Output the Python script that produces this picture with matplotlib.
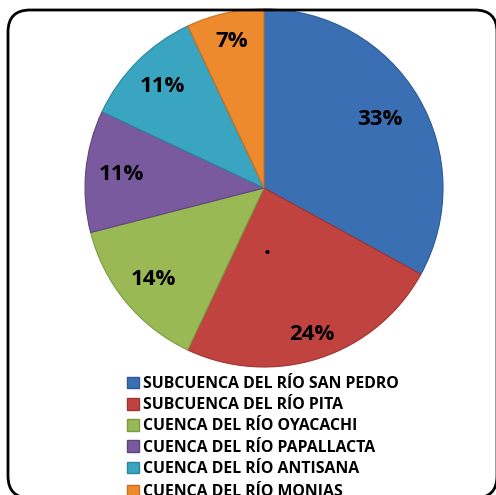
import matplotlib
matplotlib.use("Agg")
import numpy as np
import matplotlib.pyplot as plt
from matplotlib.patches import FancyBboxPatch, Patch

categories = ["SUBCUENCA DEL RÍO SAN PEDRO", "SUBCUENCA DEL RÍO PITA",
              "CUENCA DEL RÍO OYACACHI", "CUENCA DEL RÍO PAPALLACTA",
              "CUENCA DEL RÍO ANTISANA", "CUENCA DEL RÍO MONJAS"]
values = [33, 24, 14, 11, 11, 7]
colors = ["#3B6FB3", "#C0433F", "#98B954", "#7A5A9E", "#3AA5C1", "#EE8A2E"]
edges = ["#2C5A96", "#9E3431", "#7C9A40", "#5F4580", "#2A869F", "#C96E1E"]
label_dist = [0.75, 0.86, 0.80, 0.80, 0.80, 0.84]

plt.rcParams['font.family'] = ['Open Sans', 'DejaVu Sans']

fig = plt.figure(figsize=(4.96, 4.95), dpi=100)
fig.patch.set_facecolor("white")

ax = fig.add_axes([85/496, (495-367)/495, 358/496, 358/495])
wedges, texts, autotexts = ax.pie(
    values, colors=colors, startangle=90, counterclock=False,
    autopct=lambda p: f"{p:.0f}%", pctdistance=0.8, radius=1,
    wedgeprops=dict(linewidth=0.8),
    textprops=dict(fontsize=16, fontweight='bold', color='black'))
for w, ec, t, d in zip(wedges, edges, autotexts, label_dist):
    w.set_edgecolor(ec)
    ang = np.deg2rad((w.theta1 + w.theta2) / 2)
    t.set_position((d * np.cos(ang), d * np.sin(ang)))
ax.set_xlim(-1, 1)
ax.set_ylim(-1, 1)
ax.set_aspect('equal')
ax.axis('off')
ax.text(0.02, -0.33, ".", fontsize=18, fontweight='bold', ha='center', va='center')

box = FancyBboxPatch((8, -3), 489, 488, boxstyle="round,pad=0,rounding_size=22",
                     transform=None, facecolor='none', edgecolor='black',
                     linewidth=2, clip_on=False)
fig.patches.append(box)

handles = [Patch(facecolor=c, edgecolor=e) for c, e in zip(colors, edges)]
leg = fig.legend(handles, categories, loc='upper left',
                 bbox_to_anchor=(127/496, 1 - 376/495), frameon=False,
                 prop=dict(weight='bold', size=11.4), handlelength=0.75,
                 handleheight=0.75, handletextpad=0.25, labelspacing=0.33,
                 borderpad=0, borderaxespad=0)

fig.savefig("out.png", dpi=100)
